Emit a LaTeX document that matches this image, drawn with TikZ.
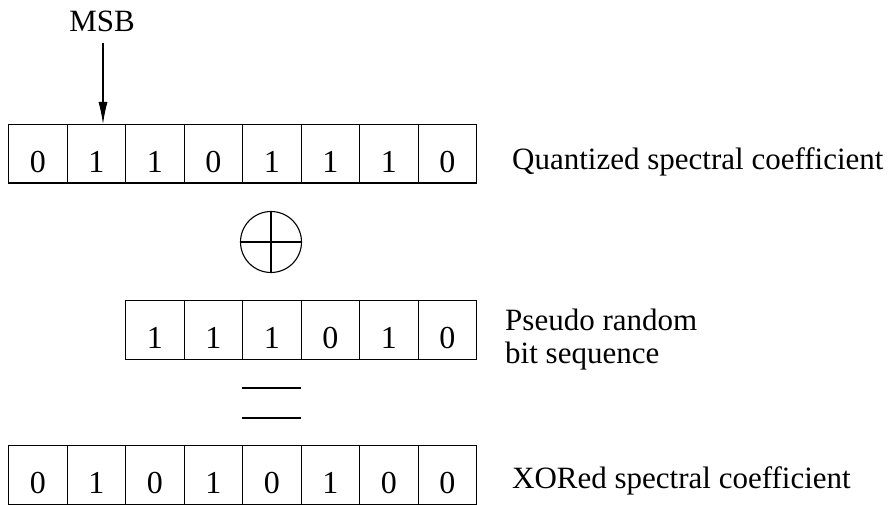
\documentclass[tikz,border=0pt]{standalone}
\usepackage{fontspec}
\setmainfont{Liberation Serif}
\usetikzlibrary{arrows.meta}
\begin{document}
\begin{tikzpicture}[x=1pt,y=-1pt,
  cell/.style={draw,line width=1.1pt,minimum width=58.5pt,minimum height=58.5pt,inner sep=0pt,
    text height=37pt,text depth=0pt,font=\fontsize{32}{35}\selectfont,anchor=north west},
  lbl/.style={font=\fontsize{31}{34}\selectfont,anchor=base west,inner sep=0pt},
  conn/.style={line width=1.1pt}]
\useasboundingbox (0,0) rectangle (889,505);
% rows
\foreach \b [count=\i from 0] in {0,1,1,0,1,1,1,0}
  \node[cell] (q\i) at (8+58.5*\i,124) {\b};
\foreach \b [count=\i from 0] in {1,1,1,0,1,0}
  \node[cell] (p\i) at (125+58.5*\i,300) {\b};
\foreach \b [count=\i from 0] in {0,1,0,1,0,1,0,0}
  \node[cell] (x\i) at (8+58.5*\i,445) {\b};
% labels
\node[lbl] (lq) at (512,170) {Quantized spectral coefficient};
\node[lbl] (lp1) at (505,330) {Pseudo random};
\node[lbl] (lp2) at (505,363) {bit sequence};
\node[lbl] (lx) at (512,488) {XORed spectral coefficient};
% MSB
\node[font=\fontsize{31}{34}\selectfont,anchor=base,inner sep=0pt] (msb) at (102,32) {MSB};
\coordinate (a1) at (103,43);
\coordinate (a2) at (103,124);
\draw[conn,-{Latex[length=22pt,width=9pt]}] (a1) -- (a2);
% XOR symbol
\node[draw,circle,line width=1.1pt,minimum size=61pt,inner sep=0pt] (xor) at (271,242) {};
\draw[conn] (xor.north) -- (xor.south);
\draw[conn] (xor.west) -- (xor.east);
% equals sign
\coordinate (e1l) at (242,388);
\coordinate (e1r) at (301,388);
\coordinate (e2l) at (242,418);
\coordinate (e2r) at (301,418);
\draw[line width=1.8pt] (e1l) -- (e1r);
\draw[line width=1.8pt] (e2l) -- (e2r);
\end{tikzpicture}
\end{document}
